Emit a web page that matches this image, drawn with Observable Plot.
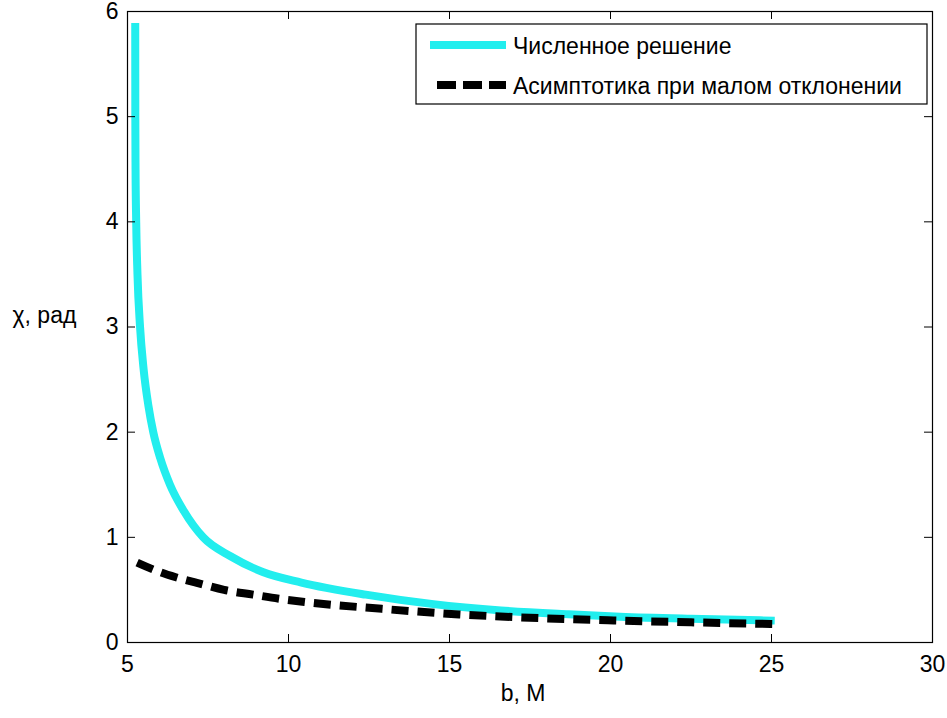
<!DOCTYPE html>
<html><head><meta charset="utf-8">
<script src="https://cdn.jsdelivr.net/npm/d3@7"></script>
<script src="https://cdn.jsdelivr.net/npm/@observablehq/plot@0.6"></script>
<style>body{margin:0;background:#fff;}</style>
</head><body><div id="chart"></div>
<script>
// Numerical solution (cyan)
const numB   = [5.24, 5.243, 5.25, 5.27, 5.31, 5.39, 5.50, 5.65, 5.80, 6.02, 6.32, 6.75, 7.35, 8.2, 9.2, 10.4, 12.4, 14.5, 16.6, 18.7, 20.3, 22.5, 25.1];
const numChi = [5.89, 5.00, 4.50, 4.00, 3.50, 3.00, 2.60, 2.25, 2.00, 1.75, 1.50, 1.25, 1.00, 0.82, 0.67, 0.57, 0.455, 0.365, 0.305, 0.268, 0.245, 0.225, 0.208];
// Small-deflection asymptotic (black dashed)
const asyB   = [5.3, 6.0, 6.5, 7.3, 8.0, 8.9, 9.7, 10.5, 12.9, 15.3, 17.8, 20.1, 22.5, 25.2];
const asyChi = [0.76, 0.67, 0.62, 0.555, 0.50, 0.455, 0.416, 0.385, 0.32, 0.267, 0.232, 0.21, 0.192, 0.175];
const xTicks = [5, 10, 15, 20, 25, 30];
const yTicks = [0, 1, 2, 3, 4, 5, 6];
const legendLabels = ["Численное решение", "Асимптотика при малом отклонении"];
const xLabel = "b, M";
const yLabel = "χ, рад";

const W = 947, H = 718, mL = 127, mR = 15, mT = 11, mB = 76;
const innerH = H - mT - mB, innerW = W - mL - mR;
const cyan = "#22eeee";
const font = "'Liberation Sans', Arial, sans-serif";
const num = numB.map((b, i) => ({b, chi: numChi[i]}));
const asy = asyB.map((b, i) => ({b, chi: asyChi[i]}));

const plot = Plot.plot({
  width: W, height: H,
  marginLeft: mL, marginRight: mR, marginTop: mT, marginBottom: mB,
  style: {fontFamily: font, fontSize: "23px", color: "#000", background: "#fff"},
  x: {domain: [5, 30]},
  y: {domain: [0, 6]},
  marks: [
    Plot.line(num, {x: "b", y: "chi", stroke: cyan, strokeWidth: 8, curve: "monotone-x", strokeLinecap: "butt", strokeLinejoin: "round"}),
    Plot.line(asy, {x: "b", y: "chi", stroke: "#000", strokeWidth: 8, strokeDasharray: "17,9", strokeLinecap: "butt", curve: "monotone-x"}),
    Plot.frame({stroke: "#000", strokeWidth: 1.2}),
    Plot.ruleX(xTicks, {x: d => d, insetTop: innerH - 8, stroke: "#000"}),
    Plot.ruleX(xTicks, {x: d => d, insetBottom: innerH - 8, stroke: "#000"}),
    Plot.ruleY(yTicks, {y: d => d, insetRight: innerW - 8, stroke: "#000"}),
    Plot.ruleY(yTicks, {y: d => d, insetLeft: innerW - 8, stroke: "#000"}),
    Plot.axisX({ticks: xTicks, tickSize: 0, tickPadding: 13, label: null, fontSize: 23, tickFormat: d3.format("d")}),
    Plot.axisY({ticks: yTicks, tickSize: 0, tickPadding: 9, label: null, fontSize: 23, tickFormat: d3.format("d")}),
    Plot.text([yLabel], {frameAnchor: "left", dx: -115, dy: -11, textAnchor: "start", fontSize: 23}),
    Plot.text([xLabel], {frameAnchor: "bottom", dx: -7, dy: 58, fontSize: 23})
  ]
});
document.getElementById("chart").appendChild(plot);

// Legend drawn into the SVG
const svg = d3.select(plot);
const lg = svg.append("g").attr("text-anchor", "start");
lg.append("rect").attr("x", 416).attr("y", 24).attr("width", 511).attr("height", 80)
  .attr("fill", "#fff").attr("stroke", "#000").attr("stroke-width", 1.2);
lg.append("line").attr("x1", 430).attr("x2", 506).attr("y1", 45).attr("y2", 45)
  .attr("stroke", cyan).attr("stroke-width", 8);
lg.append("line").attr("x1", 437).attr("x2", 506).attr("y1", 85).attr("y2", 85)
  .attr("stroke", "#000").attr("stroke-width", 8).attr("stroke-dasharray", "19,7");
lg.selectAll("text.lbl").data(legendLabels).join("text")
  .attr("class", "lbl")
  .attr("x", 513).attr("y", (d, i) => [54, 94][i])
  .attr("text-anchor", "start")
  .attr("font-family", font).attr("font-size", 23)
  .attr("fill", "#000").text(d => d);
</script>
</body></html>
